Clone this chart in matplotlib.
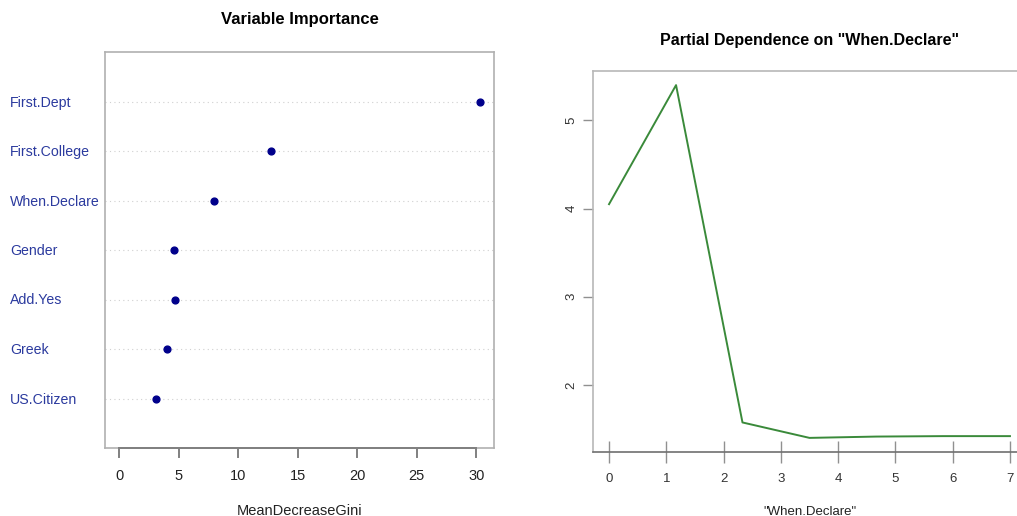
import matplotlib
matplotlib.use("Agg")
import matplotlib.pyplot as plt

plt.rcParams["font.family"] = ["Liberation Sans", "DejaVu Sans"]

# variable importance (MeanDecreaseGini), top to bottom
VARS = ["First.Dept", "First.College", "When.Declare", "Gender",
        "Add.Yes", "Greek", "US.Citizen"]
GINI = [30.3, 12.78, 7.93, 4.63, 4.65, 3.98, 3.09]

# partial dependence on When.Declare
PD_X = [0.0, 1.17, 2.33, 3.5, 4.67, 5.83, 7.0]
PD_Y = [4.05, 5.40, 1.575, 1.40, 1.415, 1.42, 1.42]

W, H = 1017, 516
fig = plt.figure(figsize=(W / 100, H / 100), dpi=100)


def ax_rect(x0, y0, x1, y1):
    # pixel box (top-left origin) -> figure fraction
    return [x0 / W, 1 - y1 / H, (x1 - x0) / W, (y1 - y0) / H]


# ---- left: dotchart
ax1 = fig.add_axes(ax_rect(105, 52, 494, 448))
ypos = list(range(len(VARS), 0, -1))
for y in ypos:
    ax1.axhline(y, color="#d0d0d0", lw=0.8, ls=(0, (1, 3)), zorder=1)
ax1.scatter(GINI, ypos, s=24, color="#00008B", zorder=3)
ax1.set_xlim(-1.21, 31.5)
ax1.set_ylim(0, 8)
for s in ax1.spines.values():
    s.set_color("#b0b0b0")
    s.set_linewidth(1.2)
ax1.spines["bottom"].set_visible(False)
ax1.set_yticks([])
ax1.set_xticks(range(0, 31, 5))
ax1.tick_params(axis="x", length=0, labelsize=10.5, pad=15, labelcolor="#222222")
# R-style axis line and ticks
ax1.plot([-1.21, 31.5], [0, 0], color="#b0b0b0", lw=1.2, clip_on=False, zorder=3)
ax1.plot([0, 30], [0, 0], color="#808080", lw=1.4, clip_on=False, zorder=4)
for t in range(0, 31, 5):
    ax1.plot([t, t], [0, -0.18], color="#808080", lw=1.4, clip_on=False)
ax1.set_xlabel("MeanDecreaseGini", fontsize=10.5, labelpad=15, color="#222222")
ax1.set_title("Variable Importance", fontsize=12, fontweight="bold", pad=20)
for y, name in zip(ypos, VARS):
    ax1.annotate(name, xy=(0, y), xycoords=("figure fraction", "data"),
                 xytext=(10, -1), textcoords="offset pixels",
                 ha="left", va="center", fontsize=10.2, color="#2b3a9e")

# ---- right: partial dependence
ax2 = fig.add_axes(ax_rect(593, 71, 1026, 452))
ax2.plot(PD_X, PD_Y, color="#3a8a3a", lw=1.4)
ax2.set_xlim(-0.28, 7.28)
ax2.set_ylim(1.24, 5.56)
for s in ax2.spines.values():
    s.set_color("#b8b8b8")
    s.set_linewidth(1.2)
ax2.spines["bottom"].set_color("#707070")
ax2.set_xticks(range(0, 8))
ax2.set_yticks([2, 3, 4, 5])
ax2.tick_params(axis="x", direction="inout", length=16, width=1.0, color="#909090",
                labelsize=9.5, labelcolor="#333333", pad=7)
ax2.tick_params(axis="y", direction="out", length=7, width=1.0, color="#909090",
                labelsize=9.5, labelcolor="#333333", labelrotation=90, pad=4)
for lab in ax2.get_yticklabels():
    lab.set_va("center")
ax2.set_xlabel('"When.Declare"', fontsize=9.5, labelpad=15, color="#222222")
ax2.set_title('Partial Dependence on "When.Declare"', fontsize=11.5,
              fontweight="bold", pad=19)

fig.savefig("out.png", dpi=100)
